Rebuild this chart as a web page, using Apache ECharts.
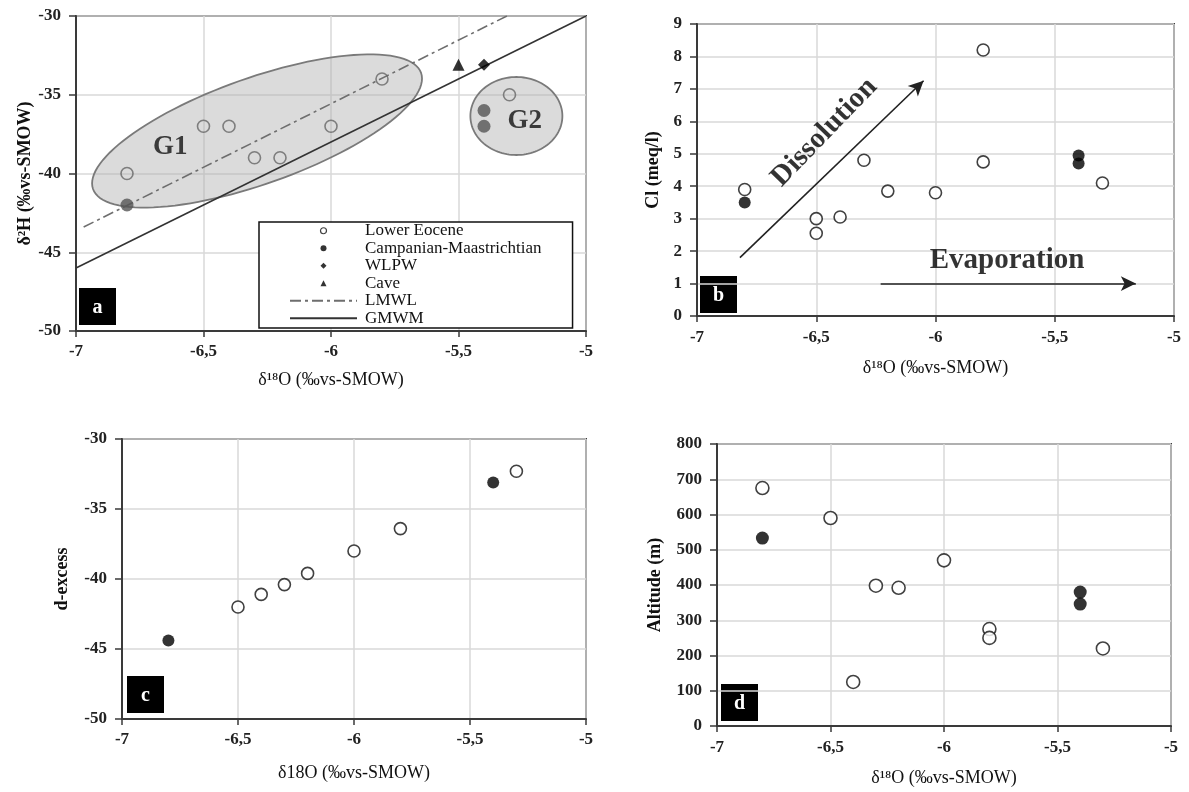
<!DOCTYPE html>
<html><head><meta charset="utf-8">
<script src="https://cdn.jsdelivr.net/npm/echarts@6/dist/echarts.min.js"></script>
<style>html,body{margin:0;padding:0;background:#fff}#c{width:1189px;height:792px}</style>
</head><body><div id="c"></div>
<script>
// ---------- DATA ----------
// shared x axis (δ18O)
const xRange = [-7, -5];
const xStep = 0.5;

// panel a : δ2H vs δ18O
const aYRange = [-50, -30];
const aYStep = 5;
const aLowerEoceneX = [-6.8, -6.5, -6.4, -6.3, -6.2, -6.0, -5.8, -5.3];
const aLowerEoceneY = [-40, -37, -37, -39, -39, -37, -34, -35];
const aCampMaasX = [-6.8, -5.4, -5.4];
const aCampMaasY = [-42, -36, -37];
const aWlpwX = [-5.4];
const aWlpwY = [-33.1];
const aCaveX = [-5.5];
const aCaveY = [-33.1];
const lmwlX = [-6.97, -5.31];
const lmwlY = [-43.4, -30];
const gmwmX = [-7, -5];
const gmwmY = [-46, -30];
const groupNames = ['G1', 'G2'];
const groupCenterX = [-6.29, -5.273];
const groupCenterY = [-37.3, -36.35];
const groupLabelX = [-6.63, -5.24];
const groupLabelY = [-38.35, -36.7];

// panel b : Cl vs δ18O
const bYRange = [0, 9];
const bYStep = 1;
const bOpenX = [-6.8, -6.5, -6.5, -6.4, -6.3, -6.2, -6.0, -5.8, -5.8, -5.3];
const bOpenY = [3.9, 3.0, 2.55, 3.05, 4.8, 3.85, 3.8, 8.2, 4.75, 4.1];
const bFilledX = [-6.8, -5.4, -5.4];
const bFilledY = [3.5, 4.95, 4.7];
const dissolutionArrowX = [-6.82, -6.05];
const dissolutionArrowY = [1.8, 7.25];
const evaporationArrowX = [-6.23, -5.16];
const evaporationArrowY = [1.0, 1.0];
const processNames = ['Dissolution', 'Evaporation'];
const processLabelX = [-6.466, -5.70];
const processLabelY = [5.66, 1.71];

// panel c : d-excess vs δ18O
const cYRange = [-50, -30];
const cYStep = 5;
const cOpenX = [-6.5, -6.4, -6.3, -6.2, -6.0, -5.8, -5.3];
const cOpenY = [-42, -41.1, -40.4, -39.6, -38, -36.4, -32.3];
const cFilledX = [-6.8, -5.4];
const cFilledY = [-44.4, -33.1];

// panel d : Altitude vs δ18O
const dYRange = [0, 800];
const dYStep = 100;
const dOpenX = [-6.8, -6.5, -6.4, -6.3, -6.2, -6.0, -5.8, -5.8, -5.3];
const dOpenY = [675, 590, 125, 398, 392, 470, 275, 250, 220];
const dFilledX = [-6.8, -5.4, -5.4];
const dFilledY = [533, 380, 346];

const panelTags = ['a', 'b', 'c', 'd'];
const xTitles = ['δ¹⁸O (‰vs-SMOW)', 'δ¹⁸O (‰vs-SMOW)', 'δ18O (‰vs-SMOW)', 'δ¹⁸O (‰vs-SMOW)'];
const yTitles = ['δ²H (‰vs-SMOW)', 'Cl (meq/l)', 'd-excess', 'Altitude (m)'];
const legendNames = ['Lower Eocene', 'Campanian-Maastrichtian', 'WLPW', 'Cave', 'LMWL', 'GMWM'];

// ---------- LAYOUT / STYLE ----------
const FONT = '"Liberation Serif", "Times New Roman", serif';
const zip = (xs, ys) => xs.map((x, i) => [x, ys[i]]);
const grids = [
  { left: 76, top: 16, width: 510, height: 315 },
  { left: 697, top: 24, width: 477, height: 292 },
  { left: 122, top: 439, width: 464, height: 280 },
  { left: 717, top: 444, width: 454, height: 282 }
];
const yRanges = [[aYRange, aYStep], [bYRange, bYStep], [cYRange, cYStep], [dYRange, dYStep]];
const yNameGaps = [42, 35, 51, 53];
const xNameGaps = [40, 43, 45, 43];
const xLabelMargins = [12, 13, 12, 13];
const tagBoxes = [[79, 288], [700, 276], [127, 676], [721, 684]];
const ellipseShapes = [{ a: 174, b: 53, angle: 19.5 }, { a: 46, b: 39, angle: 0 }];
const AXIS_COLOR = '#3a3a3a';
const DIAMOND_ICON = 'path://M0,-1L1,0L0,1L-1,0Z';
const TRIANGLE_ICON = 'path://M0,-1L1,1L-1,1Z';

const xAxes = grids.map((g, i) => ({
  type: 'value', gridIndex: i, min: xRange[0], max: xRange[1], interval: xStep,
  name: xTitles[i], nameLocation: 'middle', nameGap: xNameGaps[i],
  nameTextStyle: { fontFamily: FONT, fontSize: 18, color: '#111' },
  axisLine: { show: true, onZero: false, lineStyle: { color: AXIS_COLOR, width: 2 } },
  axisTick: { show: true, inside: false, length: 6, lineStyle: { color: AXIS_COLOR, width: 1.5 } },
  axisLabel: { margin: xLabelMargins[i], fontFamily: FONT, fontSize: 17, fontWeight: 'bold', color: '#222',
    formatter: v => String(v).replace('.', ',') },
  splitLine: { show: true, lineStyle: { color: '#d9d9d9', width: 1.5 } }
}));
const yAxes = grids.map((g, i) => ({
  type: 'value', gridIndex: i, min: yRanges[i][0][0], max: yRanges[i][0][1], interval: yRanges[i][1],
  name: yTitles[i], nameLocation: 'middle', nameGap: yNameGaps[i], nameRotate: 90,
  nameTextStyle: { fontFamily: FONT, fontSize: 18, fontWeight: 'bold', color: '#111' },
  axisLine: { show: true, onZero: false, lineStyle: { color: AXIS_COLOR, width: 2 } },
  axisTick: { show: true, inside: false, length: 7, lineStyle: { color: AXIS_COLOR, width: 1.5 } },
  axisLabel: { margin: 15, fontFamily: FONT, fontSize: 17, fontWeight: 'bold', color: '#222',
    formatter: v => String(v).replace('.', ',') },
  splitLine: { show: true, lineStyle: { color: '#d9d9d9', width: 1.5 } }
}));

const openBlack = { color: '#fff', borderColor: '#111', borderWidth: 1.6 };
const filledBlack = { color: '#000' };

const series = [
  // ---- panel a ----
  {
    type: 'custom', name: 'groups', xAxisIndex: 0, yAxisIndex: 0, z: 1, silent: true,
    data: zip(groupCenterX, groupCenterY), encode: { x: 0, y: 1 },
    renderItem: (params, api) => {
      const c = api.coord([api.value(0), api.value(1)]);
      const s = ellipseShapes[params.dataIndex];
      const th = s.angle * Math.PI / 180;
      const pts = [];
      for (let k = 0; k < 120; k++) {
        const t = k / 120 * 2 * Math.PI;
        const u = s.a * Math.cos(t), v = s.b * Math.sin(t);
        pts.push([c[0] + u * Math.cos(th) + v * Math.sin(th), c[1] - u * Math.sin(th) + v * Math.cos(th)]);
      }
      return { type: 'polygon', shape: { points: pts },
        style: { fill: 'rgba(175,175,175,0.45)', stroke: '#7a7a7a', lineWidth: 1.8 } };
    }
  },
  {
    type: 'scatter', name: 'groupLabels', xAxisIndex: 0, yAxisIndex: 0, z: 4, silent: true,
    symbolSize: 0, data: zip(groupLabelX, groupLabelY).map((p, i) => ({ value: p, name: groupNames[i] })),
    label: { show: true, position: 'inside', formatter: p => p.name, fontFamily: FONT, fontSize: 27,
      fontWeight: 'bold', color: '#111' }
  },
  {
    type: 'line', name: 'LMWL', xAxisIndex: 0, yAxisIndex: 0, z: 2, symbol: 'none', silent: true,
    data: zip(lmwlX, lmwlY), lineStyle: { color: '#6e6e6e', width: 1.6, type: [11, 4, 3, 4] },
    itemStyle: { color: '#333' }
  },
  {
    type: 'line', name: 'GMWM', xAxisIndex: 0, yAxisIndex: 0, z: 2, symbol: 'none', silent: true,
    data: zip(gmwmX, gmwmY), lineStyle: { color: '#333', width: 1.6, type: 'solid' },
    itemStyle: { color: '#333' }
  },
  {
    type: 'scatter', name: 'Lower Eocene', xAxisIndex: 0, yAxisIndex: 0, z: 3, symbol: 'circle', symbolSize: 12,
    data: zip(aLowerEoceneX, aLowerEoceneY),
    itemStyle: { color: 'rgba(0,0,0,0)', borderColor: '#666', borderWidth: 1.6 }
  },
  {
    type: 'scatter', name: 'Campanian-Maastrichtian', xAxisIndex: 0, yAxisIndex: 0, z: 3, symbol: 'circle', symbolSize: 13,
    data: zip(aCampMaasX, aCampMaasY), itemStyle: { color: '#555' }
  },
  {
    type: 'scatter', name: 'WLPW', xAxisIndex: 0, yAxisIndex: 0, z: 3, symbol: 'diamond', symbolSize: 12,
    data: zip(aWlpwX, aWlpwY), itemStyle: { color: '#000' }
  },
  {
    type: 'scatter', name: 'Cave', xAxisIndex: 0, yAxisIndex: 0, z: 3, symbol: 'triangle', symbolSize: 12,
    data: zip(aCaveX, aCaveY), itemStyle: { color: '#000' }
  },
  // ---- panel b ----
  {
    type: 'scatter', name: 'b-open', xAxisIndex: 1, yAxisIndex: 1, z: 3, symbolSize: 12,
    data: zip(bOpenX, bOpenY), itemStyle: openBlack,
    markLine: {
      silent: true, symbol: ['none', 'arrow'], symbolSize: [11, 15], label: { show: false },
      lineStyle: { color: '#222', width: 1.6, type: 'solid' },
      data: [
        [{ coord: [dissolutionArrowX[0], dissolutionArrowY[0]] }, { coord: [dissolutionArrowX[1], dissolutionArrowY[1]] }],
        [{ coord: [evaporationArrowX[0], evaporationArrowY[0]] }, { coord: [evaporationArrowX[1], evaporationArrowY[1]] }]
      ]
    }
  },
  {
    type: 'scatter', name: 'b-filled', xAxisIndex: 1, yAxisIndex: 1, z: 3, symbolSize: 12,
    data: zip(bFilledX, bFilledY), itemStyle: filledBlack
  },
  {
    type: 'scatter', name: 'b-labels', xAxisIndex: 1, yAxisIndex: 1, z: 4, symbolSize: 0, silent: true,
    data: zip(processLabelX, processLabelY).map((p, i) => ({ value: p, name: processNames[i],
      label: { rotate: i === 0 ? 46 : 0 } })),
    label: { show: true, position: 'inside', formatter: p => p.name, fontFamily: FONT, fontSize: 29,
      fontWeight: 'bold', color: '#000' }
  },
  // ---- panel c ----
  {
    type: 'scatter', name: 'c-open', xAxisIndex: 2, yAxisIndex: 2, z: 3, symbolSize: 12,
    data: zip(cOpenX, cOpenY), itemStyle: openBlack
  },
  {
    type: 'scatter', name: 'c-filled', xAxisIndex: 2, yAxisIndex: 2, z: 3, symbolSize: 12,
    data: zip(cFilledX, cFilledY), itemStyle: filledBlack
  },
  // ---- panel d ----
  {
    type: 'scatter', name: 'd-open', xAxisIndex: 3, yAxisIndex: 3, z: 3, symbolSize: 13,
    data: zip(dOpenX, dOpenY), itemStyle: openBlack
  },
  {
    type: 'scatter', name: 'd-filled', xAxisIndex: 3, yAxisIndex: 3, z: 3, symbolSize: 13,
    data: zip(dFilledX, dFilledY), itemStyle: filledBlack
  }
];

const hiddenSymbol = { color: 'rgba(0,0,0,0)', borderColor: 'rgba(0,0,0,0)', borderWidth: 0, opacity: 0 };
const legendItemStyles = {
  'Lower Eocene': { itemStyle: { color: '#fff', borderColor: '#111', borderWidth: 1.2 } },
  'Campanian-Maastrichtian': { itemStyle: { color: '#000' } },
  'WLPW': { icon: DIAMOND_ICON, itemStyle: { color: '#000' } },
  'Cave': { icon: TRIANGLE_ICON, itemStyle: { color: '#000' } },
  'LMWL': { itemStyle: hiddenSymbol },
  'GMWM': { itemStyle: hiddenSymbol }
};

const option = {
  animation: false,
  backgroundColor: '#fff',
  grid: grids.map(g => Object.assign({ show: true, borderColor: AXIS_COLOR, borderWidth: 2, backgroundColor: 'transparent', containLabel: false }, g)),
  xAxis: xAxes,
  yAxis: yAxes,
  legend: {
    data: legendNames.map(n => Object.assign({ name: n }, legendItemStyles[n])),
    orient: 'vertical', left: 259, top: 222, selectedMode: false,
    itemWidth: 67, itemHeight: 6, itemGap: 0, symbolKeepAspect: true,
    padding: [0, 31, 1, 30],
    backgroundColor: '#fff', borderColor: '#111', borderWidth: 1.5,
    textStyle: { fontFamily: FONT, fontSize: 17, lineHeight: 17.5, color: '#111', padding: [0, 0, 0, 3] }
  },
  graphic: panelTags.map((t, i) => ({
    type: 'group', left: tagBoxes[i][0], top: tagBoxes[i][1], z: 100,
    children: [
      { type: 'rect', shape: { x: 0, y: 0, width: 37, height: 37 }, style: { fill: '#000' } },
      { type: 'text', x: 18.5, y: 20, style: { text: t, fill: '#fff', fontFamily: FONT, fontSize: 20,
        fontWeight: 'bold', align: 'center', verticalAlign: 'middle' } }
    ]
  })),
  series: series
};

const chart = echarts.init(document.getElementById('c'), null, { renderer: 'canvas' });
chart.setOption(option);
</script>
</body></html>
